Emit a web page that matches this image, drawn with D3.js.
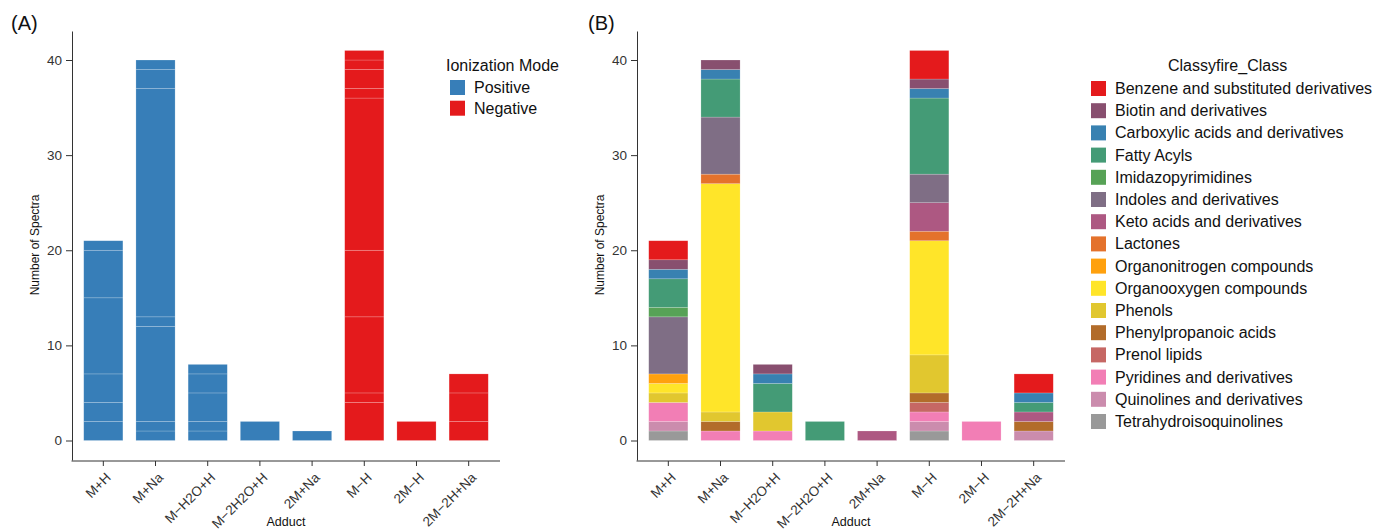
<!DOCTYPE html>
<html>
<head>
<meta charset="utf-8">
<script src="https://cdn.jsdelivr.net/npm/d3@7"></script>
<style>
  body { margin: 0; background: #fff; }
  svg { font-family: "Liberation Sans", Arial, sans-serif; }
</style>
</head>
<body>
<svg id="chart" width="1375" height="529"></svg>
<script>
var adducts = ["M+H", "M+Na", "M\u2212H2O+H", "M\u22122H2O+H", "2M+Na", "M\u2212H", "2M\u2212H", "2M\u22122H+Na"];
var modes = ["Positive", "Positive", "Positive", "Positive", "Positive", "Negative", "Negative", "Negative"];
var modeNames = ["Positive", "Negative"];
var modeColors = ["#377EB8", "#E41A1C"];

// panel A: stacked pieces of each bar, bottom to top
var modePieces = [
  [2, 2, 3, 8, 5, 1],
  [1, 1, 10, 1, 24, 2, 1],
  [1, 1, 3, 2, 1],
  [2],
  [1],
  [4, 1, 8, 7, 16, 1, 2, 1, 1],
  [2],
  [2, 3, 2]
];

var classes = [
  "Benzene and substituted derivatives",
  "Biotin and derivatives",
  "Carboxylic acids and derivatives",
  "Fatty Acyls",
  "Imidazopyrimidines",
  "Indoles and derivatives",
  "Keto acids and derivatives",
  "Lactones",
  "Organonitrogen compounds",
  "Organooxygen compounds",
  "Phenols",
  "Phenylpropanoic acids",
  "Prenol lipids",
  "Pyridines and derivatives",
  "Quinolines and derivatives",
  "Tetrahydroisoquinolines"
];
var classColors = ["#E41A1C", "#884F6F", "#3881B1", "#449B76", "#57A256", "#7F6E85", "#AD5882", "#E4722C",
                   "#FFA10E", "#FFE529", "#E1C72F", "#B26C2A", "#C66764", "#F27EB5", "#CB8CAD", "#999999"];

// panel B: counts per class (rows) for each adduct (columns)
var classCounts = [
  [2, 0, 0, 0, 0, 3, 0, 2],
  [1, 1, 1, 0, 0, 1, 0, 0],
  [1, 1, 1, 0, 0, 1, 0, 1],
  [3, 4, 3, 2, 0, 8, 0, 1],
  [1, 0, 0, 0, 0, 0, 0, 0],
  [6, 6, 0, 0, 0, 3, 0, 0],
  [0, 0, 0, 0, 1, 3, 0, 1],
  [0, 1, 0, 0, 0, 1, 0, 0],
  [1, 0, 0, 0, 0, 0, 0, 0],
  [1, 24, 0, 0, 0, 12, 0, 0],
  [1, 1, 2, 0, 0, 4, 0, 0],
  [0, 1, 0, 0, 0, 1, 0, 1],
  [0, 0, 0, 0, 0, 1, 0, 0],
  [2, 1, 1, 0, 0, 1, 2, 0],
  [1, 0, 0, 0, 0, 1, 0, 1],
  [1, 0, 0, 0, 0, 1, 0, 0]
];

var yTicks = [0, 10, 20, 30, 40];

var svg = d3.select("#chart");

var y = d3.scaleLinear().domain([-2.05, 43.05]).range([460, 31]);

function makeX(x0, x1) {
  return d3.scaleBand().domain(adducts).range([x0, x1]).paddingInner(0.25).paddingOuter(0.225);
}

function styleAxis(a) {
  a.attr("font-family", null).attr("font-size", null);
  a.selectAll("path, line").attr("stroke", "#333");
  a.selectAll("text").attr("fill", "#333").attr("font-size", 13.5);
}

function drawAxes(g, x, letter, letterX) {
  var left = x.range()[0];

  var ya = g.append("g")
    .attr("transform", "translate(" + left + ",0)")
    .call(d3.axisLeft(y).tickValues(yTicks).tickFormat(d3.format("d")).tickSize(6).tickSizeOuter(0).tickPadding(4));
  styleAxis(ya);

  var xa = g.append("g")
    .attr("transform", "translate(0,461)")
    .call(d3.axisBottom(x).tickSize(5).tickSizeOuter(0));
  styleAxis(xa);
  xa.select(".domain").attr("d", "M" + (left - 0.5) + ",0H" + x.range()[1]);
  xa.selectAll("text")
    .attr("text-anchor", "end")
    .attr("transform", "translate(-4,5) rotate(-45)")
    .attr("dy", "0.71em");

  g.append("text")
    .attr("transform", "translate(" + (left - 33) + ",245) rotate(-90)")
    .attr("text-anchor", "middle")
    .attr("font-size", 12)
    .attr("fill", "#111")
    .text("Number of Spectra");

  g.append("text")
    .attr("x", (left + x.range()[1]) / 2)
    .attr("y", 526)
    .attr("text-anchor", "middle")
    .attr("font-size", 12.5)
    .attr("fill", "#111")
    .text("Adduct");

  g.append("text")
    .attr("x", letterX)
    .attr("y", 30)
    .attr("font-size", 20)
    .attr("fill", "#111")
    .text(letter);
}

// ---- panel A
var xA = makeX(72, 500);
var gA = svg.append("g");

var piecesA = [];
adducts.forEach(function (a, i) {
  var acc = 0;
  modePieces[i].forEach(function (v) {
    piecesA.push({ adduct: a, mode: modes[i], y0: acc, y1: acc + v });
    acc += v;
  });
});

gA.selectAll("rect.seg")
  .data(piecesA)
  .enter()
  .append("rect")
  .attr("class", "seg")
  .attr("x", function (d) { return xA(d.adduct); })
  .attr("width", xA.bandwidth())
  .attr("y", function (d) { return y(d.y1); })
  .attr("height", function (d) { return y(d.y0) - y(d.y1); })
  .attr("fill", function (d) { return modeColors[modeNames.indexOf(d.mode)]; })
  .attr("stroke", "rgba(255,255,255,0.3)")
  .attr("stroke-width", 0.6);

drawAxes(gA, xA, "(A)", 11);

var legA = gA.append("g");
legA.append("text").attr("x", 446).attr("y", 71).attr("font-size", 16).attr("fill", "#111").text("Ionization Mode");
legA.selectAll("rect")
  .data(modeNames)
  .enter()
  .append("rect")
  .attr("x", 450)
  .attr("y", function (d, i) { return 80 + i * 20.7; })
  .attr("width", 15).attr("height", 15)
  .attr("fill", function (d, i) { return modeColors[i]; });
legA.selectAll("text.lab")
  .data(modeNames)
  .enter()
  .append("text")
  .attr("class", "lab")
  .attr("x", 474)
  .attr("y", function (d, i) { return 93 + i * 20.7; })
  .attr("font-size", 16)
  .attr("fill", "#111")
  .text(function (d) { return d; });

// ---- panel B
var xB = makeX(637, 1065);
var gB = svg.append("g");

var rows = adducts.map(function (a, j) {
  var r = { adduct: a };
  classes.forEach(function (c, k) { r[c] = classCounts[k][j]; });
  return r;
});

// first class sits on top, as in ggplot
var stack = d3.stack().keys(classes.slice().reverse());
var series = stack(rows);

gB.selectAll("g.layer")
  .data(series)
  .enter()
  .append("g")
  .attr("class", "layer")
  .attr("fill", function (s) { return classColors[classes.indexOf(s.key)]; })
  .selectAll("rect")
  .data(function (s) { return s.filter(function (d) { return d[1] > d[0]; }); })
  .enter()
  .append("rect")
  .attr("x", function (d) { return xB(d.data.adduct); })
  .attr("width", xB.bandwidth())
  .attr("y", function (d) { return y(d[1]); })
  .attr("height", function (d) { return y(d[0]) - y(d[1]); })
  .attr("stroke", "rgba(255,255,255,0.3)")
  .attr("stroke-width", 0.6);

drawAxes(gB, xB, "(B)", 588);

var legB = gB.append("g");
legB.append("text").attr("x", 1168).attr("y", 71).attr("font-size", 16).attr("fill", "#111").text("Classyfire_Class");
legB.selectAll("rect")
  .data(classes)
  .enter()
  .append("rect")
  .attr("x", 1091)
  .attr("y", function (d, i) { return 81 + i * 22.2; })
  .attr("width", 15).attr("height", 15)
  .attr("fill", function (d, i) { return classColors[i]; });
legB.selectAll("text.lab")
  .data(classes)
  .enter()
  .append("text")
  .attr("class", "lab")
  .attr("x", 1115)
  .attr("y", function (d, i) { return 94 + i * 22.2; })
  .attr("font-size", 16)
  .attr("fill", "#111")
  .text(function (d) { return d; });
</script>
</body>
</html>
